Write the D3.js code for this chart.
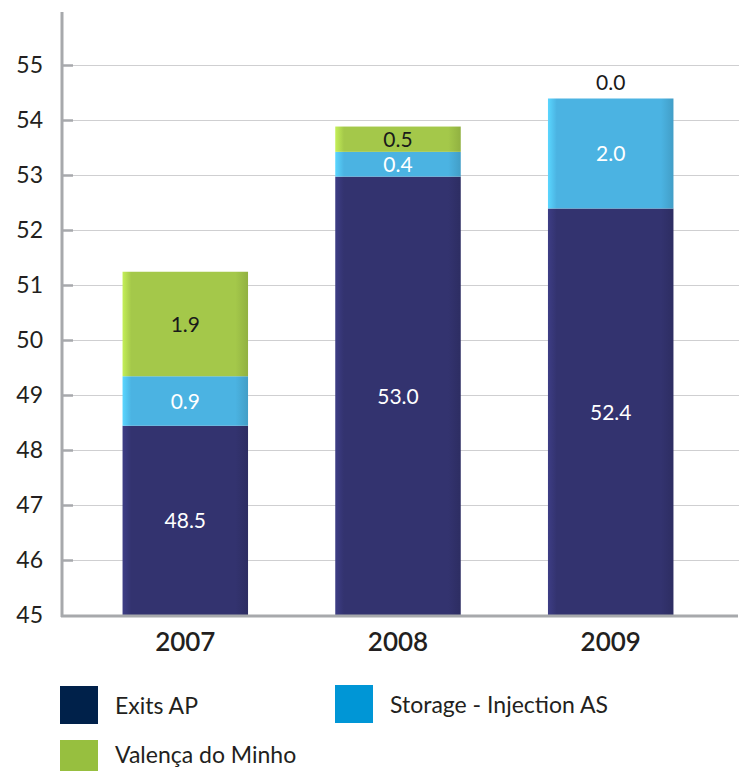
<!DOCTYPE html>
<html><head><meta charset="utf-8">
<script src="https://cdn.jsdelivr.net/npm/d3@7"></script>
<style>body{margin:0;background:#fff}svg{display:block}text{font-family:Lato,"Open Sans",sans-serif}</style>
</head><body>
<svg id="c" width="743" height="771"></svg>
<script>
const years = ["2007", "2008", "2009"];
const seriesNames = ["Exits AP", "Storage - Injection AS", "Valença do Minho"];
const exitsAP = [48.45, 52.98, 52.4];
const storageAS = [0.9, 0.45, 2.0];
const valenca = [1.9, 0.46, 0.0];
const exitsLabels = ["48.5", "53.0", "52.4"];
const storageLabels = ["0.9", "0.4", "2.0"];
const valencaLabels = ["1.9", "0.5", "0.0"];
const yTicks = [45, 46, 47, 48, 49, 50, 51, 52, 53, 54, 55];

const barColors = ["#33336f", "#4bb3e2", "#a4c84a"];
const legendColors = ["#00214a", "#0096d6", "#97bf3f"];
const labelColors = ["#ffffff", "#ffffff", "#1a1a1a"];

const svg = d3.select("#c");
const y = d3.scaleLinear().domain([45, 55]).range([615.5, 65.5]);
const x = d3.scaleBand().domain(years).range([80, 716]).paddingInner(0.41).paddingOuter(0.2);

// gradients
const defs = svg.append("defs");
barColors.forEach((c, i) => {
  const g = defs.append("linearGradient").attr("id", "g" + i).attr("x1", 0).attr("x2", 1).attr("y1", 0).attr("y2", 0);
  const base = d3.color(c);
  g.append("stop").attr("offset", 0).attr("stop-color", base.brighter(0.5));
  g.append("stop").attr("offset", 0.07).attr("stop-color", c);
  g.append("stop").attr("offset", 0.9).attr("stop-color", c);
  g.append("stop").attr("offset", 1).attr("stop-color", base.darker(0.35));
});

// gridlines
svg.append("g").selectAll("line").data(yTicks.filter(t => t > 45)).join("line")
  .attr("x1", 62).attr("x2", 739).attr("y1", d => y(d)).attr("y2", d => y(d))
  .attr("stroke", "#cfcfd1").attr("stroke-width", 1);

// stacked data
const rows = years.map((yr, i) => ({year: yr, e: exitsAP[i], s: storageAS[i], v: valenca[i]}));
const stack = d3.stack().keys(["e", "s", "v"]);
const stacked = stack(rows);

stacked.forEach((layer, li) => {
  svg.append("g").selectAll("rect").data(layer).join("rect")
    .attr("x", d => x(d.data.year))
    .attr("width", x.bandwidth())
    .attr("y", d => y(Math.max(d[1], 45)))
    .attr("height", d => Math.max(0, y(Math.max(d[0], 45)) - y(d[1])))
    .attr("fill", `url(#g${li})`);
});

// labels
const labelSets = [exitsLabels, storageLabels, valencaLabels];
stacked.forEach((layer, li) => {
  svg.append("g").selectAll("text").data(layer).join("text")
    .attr("x", d => x(d.data.year) + x.bandwidth() / 2)
    .attr("y", d => {
      const lo = Math.max(d[0], 45), hi = d[1];
      if (hi - lo < 0.05) return y(hi) - 16;
      return (y(lo) + y(hi)) / 2;
    })
    .attr("dy", "0.36em")
    .attr("text-anchor", "middle")
    .attr("font-size", 21)
    .attr("fill", (d) => (d[1] - d[0] < 0.05) ? "#1a1a1a" : labelColors[li])
    .text((d, i) => labelSets[li][i]);
});

// y axis
const yAxis = d3.axisLeft(y).tickValues(yTicks).tickSize(0).tickPadding(0).tickFormat(d3.format("d"));
const ya = svg.append("g").attr("transform", "translate(62,0)").call(yAxis);
ya.select(".domain").remove();
ya.selectAll("text").attr("x", -19).attr("font-size", 23).attr("fill", "#231f20").attr("font-family", "Lato, sans-serif");
svg.append("line").attr("x1", 62).attr("x2", 62).attr("y1", 12).attr("y2", 617).attr("stroke", "#a7a9ac").attr("stroke-width", 3);
svg.append("g").selectAll("line").data(yTicks.filter(t => t > 45)).join("line")
  .attr("x1", 62).attr("x2", 73).attr("y1", d => y(d)).attr("y2", d => y(d))
  .attr("stroke", "#a7a9ac").attr("stroke-width", 2.5);

// x axis
svg.append("line").attr("x1", 61).attr("x2", 738).attr("y1", 616).attr("y2", 616).attr("stroke", "#a7a9ac").attr("stroke-width", 3);
const xAxis = d3.axisBottom(x).tickSize(0).tickPadding(0);
const xa = svg.append("g").attr("transform", "translate(0,651)").call(xAxis);
xa.select(".domain").remove();
xa.selectAll("text").attr("y", 0).attr("dy", 0).attr("font-size", 26).attr("font-weight", 600).attr("fill", "#231f20").attr("font-family", "Lato, sans-serif");

// legend
const legendPos = [[60, 686, 28], [335, 685, 28], [60, 740, 23]];
const lg = svg.append("g").selectAll("g").data(seriesNames).join("g")
  .attr("transform", (d, i) => `translate(${legendPos[i][0]},${legendPos[i][1]})`);
lg.append("rect").attr("width", 38).attr("height", 38).attr("fill", (d, i) => legendColors[i]);
lg.append("text").attr("x", 55).attr("y", (d, i) => legendPos[i][2]).attr("font-size", 23).attr("fill", "#231f20").text(d => d);
</script>
</body></html>
